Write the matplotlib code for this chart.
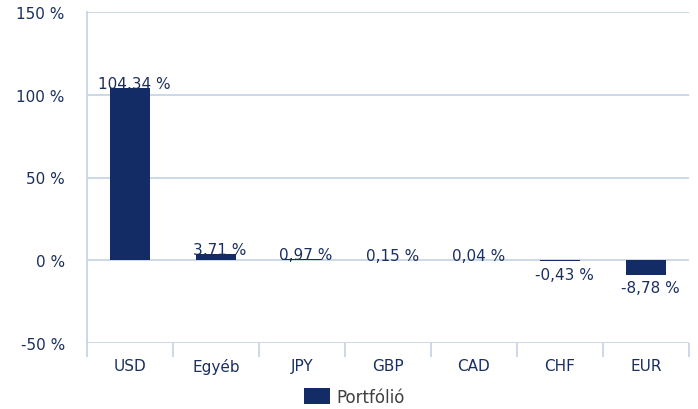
import matplotlib
matplotlib.use('Agg')
import matplotlib.pyplot as plt
import numpy as np

currencies = ['USD', 'Egyéb', 'JPY', 'GBP', 'CAD', 'CHF', 'EUR']
portfolio = [104.34, 3.71, 0.97, 0.15, 0.04, -0.43, -8.78]
y_ticks = [-50, 0, 50, 100, 150]

navy = '#132c66'
text_col = '#1b2f5e'
grid_col = '#c9d5e6'

plt.rcParams['font.family'] = ['DejaVu Sans']

fig = plt.figure(figsize=(6.98, 4.10), dpi=100)
ax = fig.add_axes([87 / 698, 1 - 344 / 410, 602 / 698, 331 / 410])

x = np.arange(len(currencies))
bars = ax.bar(x, portfolio, width=0.47, color=navy, zorder=3, label='Portfólió')

for xi, v in zip(x, portfolio):
    lbl = '{:.2f} %'.format(v).replace('.', ',')
    if v >= 0:
        ax.annotate(lbl, (xi, v), xytext=(3, 0), textcoords='offset points',
                    ha='center', va='baseline', fontsize=11, color=text_col, zorder=4)
    else:
        ax.annotate(lbl, (xi, v), xytext=(3, -4), textcoords='offset points',
                    ha='center', va='top', fontsize=11, color=text_col, zorder=4)

ax.set_xlim(-0.5, len(currencies) - 0.5)
ax.set_ylim(-50, 150)
ax.set_yticks(y_ticks)
ax.set_yticklabels(['{} %'.format(t) for t in y_ticks])
ax.set_xticks(x)
ax.set_xticklabels(currencies)
ax.set_xticks(np.arange(len(currencies) + 1) - 0.5, minor=True)

ax.grid(axis='y', color=grid_col, linewidth=1.3, zorder=0)
for s in ['top', 'right', 'bottom']:
    ax.spines[s].set_visible(False)
ax.spines['left'].set_color(grid_col)
ax.spines['left'].set_linewidth(1.3)

ax.tick_params(axis='y', length=0, pad=16, labelsize=11, labelcolor=text_col)
ax.tick_params(axis='x', which='major', length=0, pad=11, labelsize=11, labelcolor=text_col)
ax.tick_params(axis='x', which='minor', length=10, width=1.3, color=grid_col)

leg = fig.legend(handles=[bars], labels=['Portfólió'], loc='center',
                 bbox_to_anchor=(354 / 698, 1 - 398 / 410), frameon=False,
                 fontsize=12, handlelength=1.6, handleheight=1.1, handletextpad=0.35,
                 borderpad=0)
for t in leg.get_texts():
    t.set_color('#404040')

fig.savefig('out.png', dpi=100)
